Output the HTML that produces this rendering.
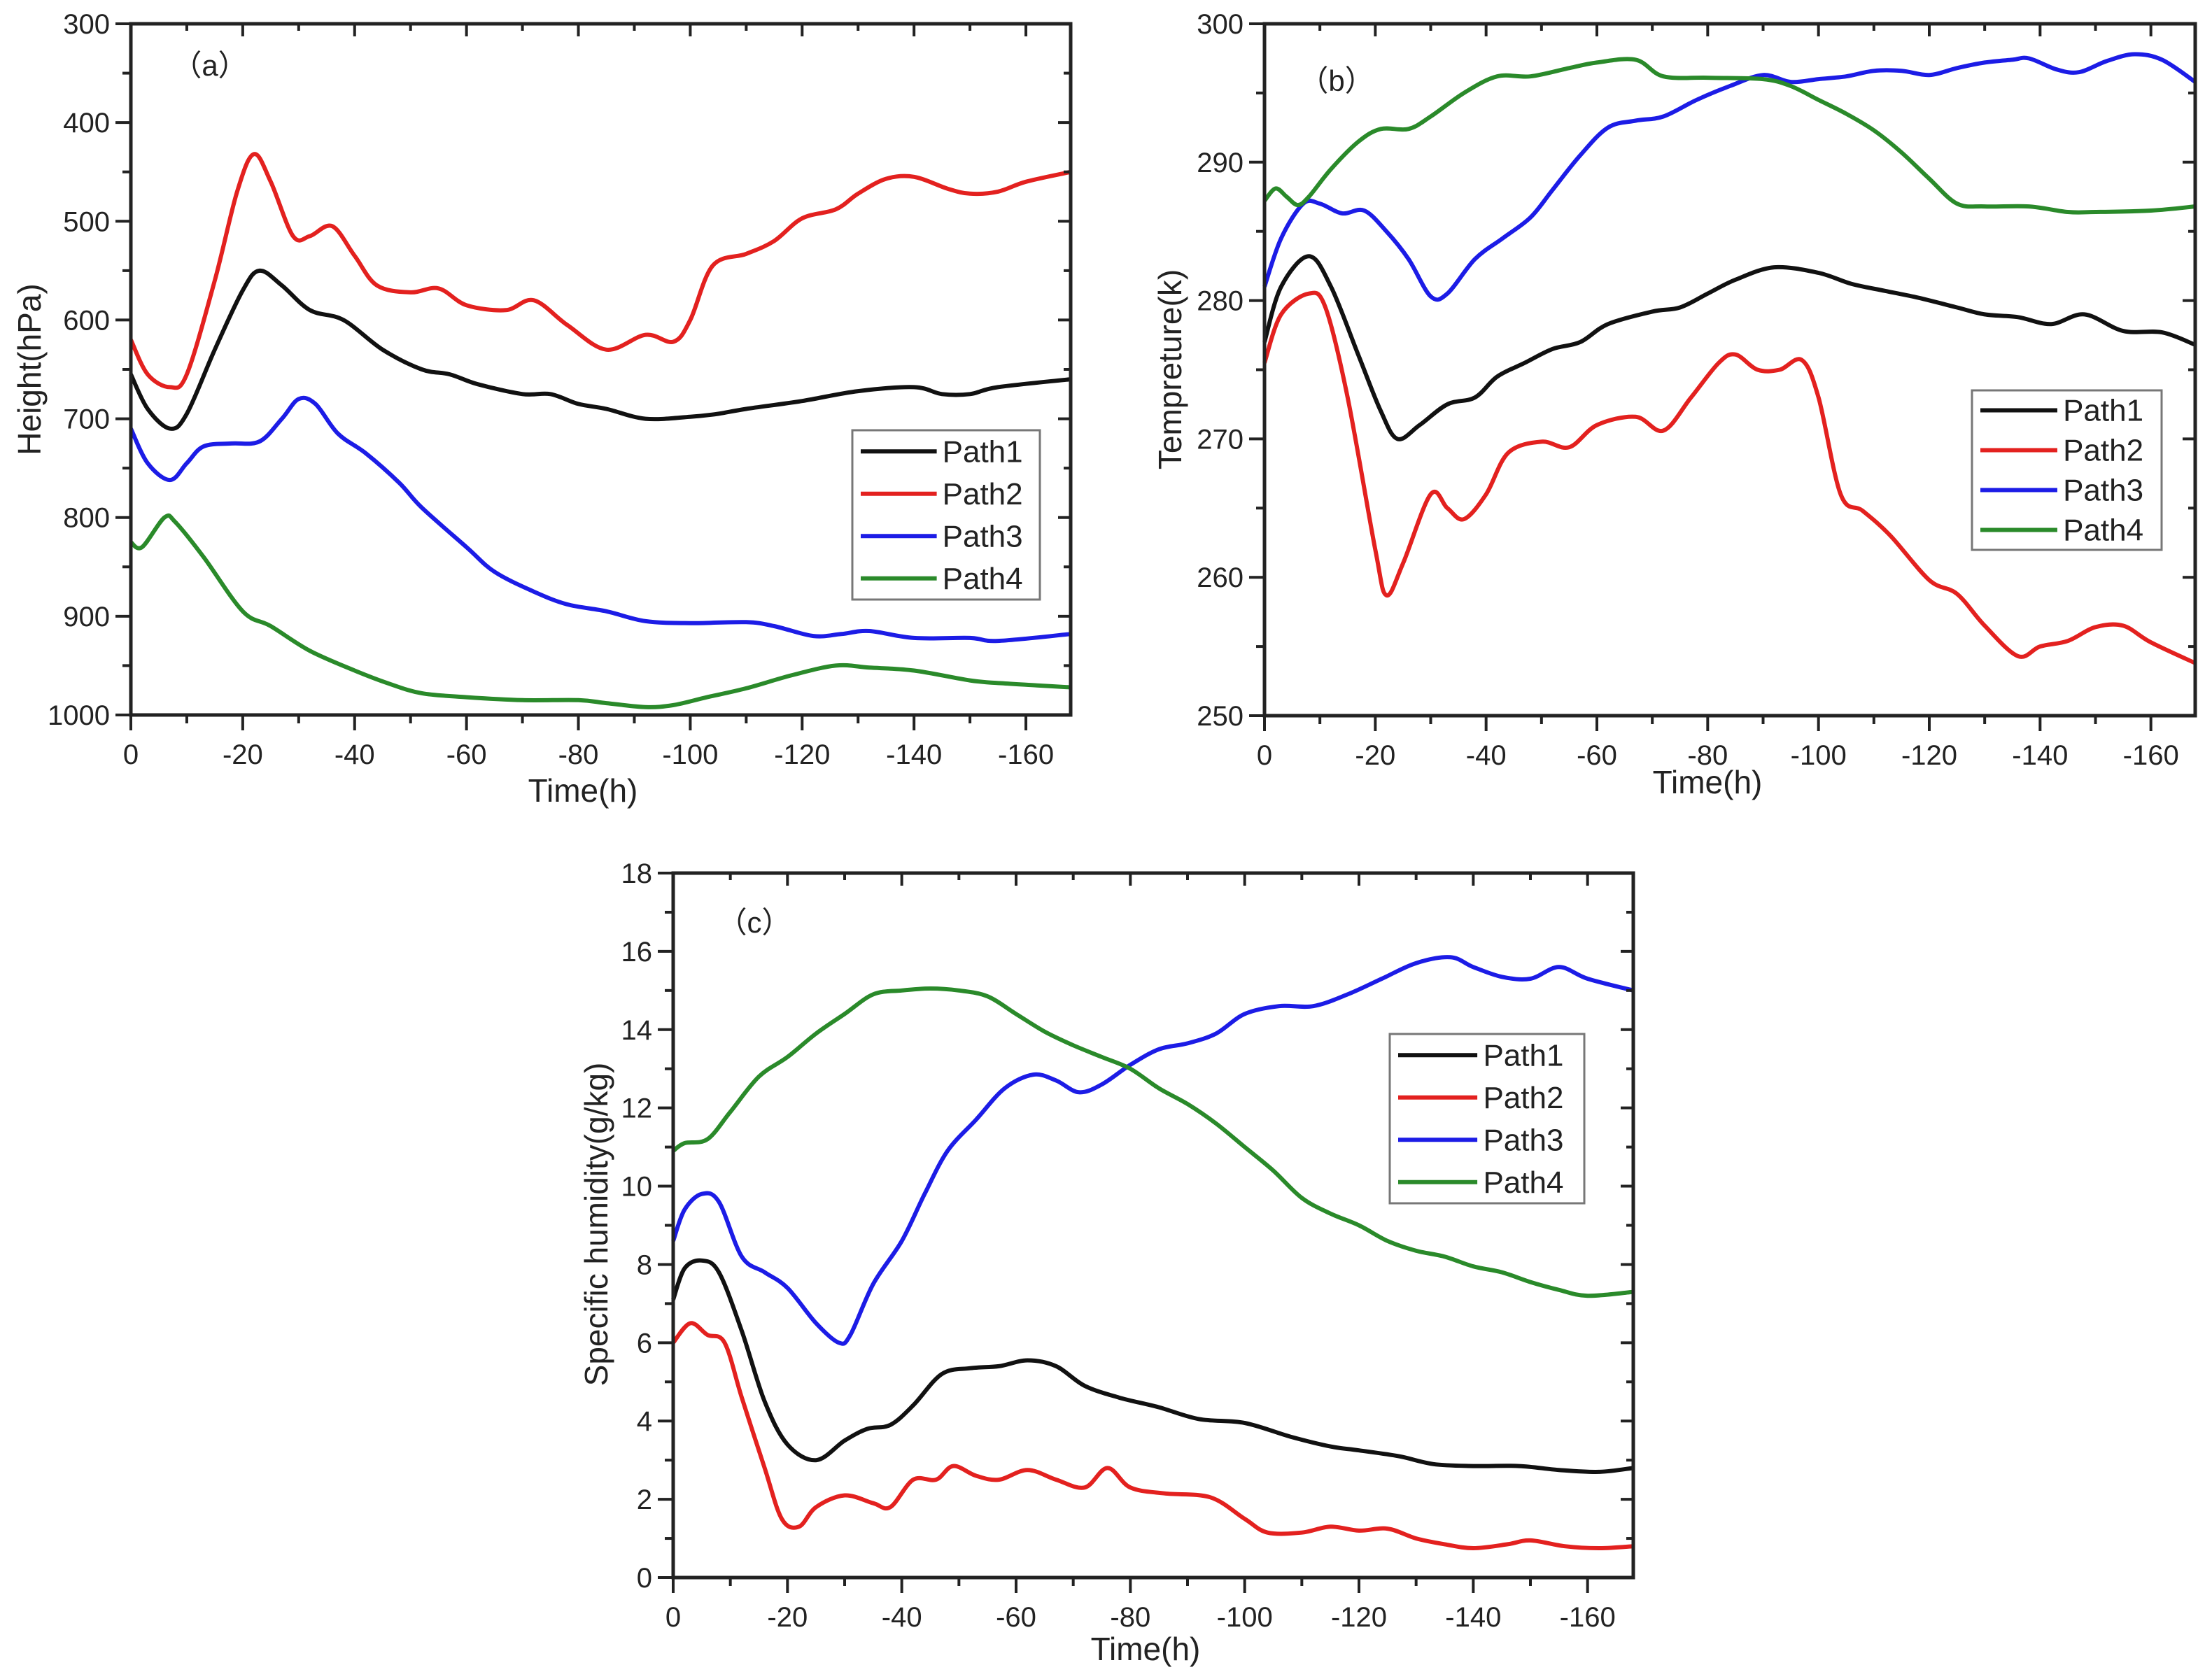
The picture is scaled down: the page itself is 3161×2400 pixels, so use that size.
<!DOCTYPE html>
<html><head><meta charset="utf-8"><style>
html,body{margin:0;padding:0;background:#fff;}
svg{display:block;font-family:"Liberation Sans",Arial,sans-serif;}
</style></head><body>
<svg id="fig" width="3161" height="2400" viewBox="0 0 3161 2400" xmlns="http://www.w3.org/2000/svg"></svg>
<script>
// ---------- Panel (a) data: Height (hPa) ----------
const aT1=[0,3,7,10,15,20,23,27,32,38,45,52,57,62,70,75,80,85,92,100,105,110,120,130,140,145,150,155,168];
const aV1=[655,690,710,695,630,570,550,565,590,600,630,650,655,665,675,675,685,690,700,698,695,690,682,672,668,675,675,668,660];
const aT2=[0,3,7,10,15,19,22,25,29,32,36,40,44,50,55,60,67,72,78,85,92,97,100,104,110,115,120,126,130,135,140,146,150,155,160,168];
const aV2=[620,655,668,655,560,470,432,460,515,515,505,535,565,572,568,585,590,580,605,630,615,622,600,545,533,520,497,488,472,457,455,467,472,470,460,450];
const aT3=[0,3,7,10,13,18,23,27,30,33,37,42,48,52,60,65,72,78,85,92,100,110,115,122,127,132,140,150,155,168];
const aV3=[710,745,762,745,728,725,723,700,680,685,715,735,765,790,830,855,875,888,895,905,907,906,910,920,918,915,922,922,925,918];
const aT4=[0,2,6,8,13,20,25,32,40,46,52,60,70,80,85,92,97,103,110,118,126,132,140,150,156,162,168];
const aV4=[825,830,800,805,840,895,910,935,955,968,978,982,985,985,988,992,990,982,973,960,950,952,955,965,968,970,972];
// ---------- Panel (b) data: Temperature (K) ----------
const bT1=[0,3,8,12,17,21,24,28,33,38,42,47,52,57,62,70,75,80,85,92,100,106,112,118,125,130,136,142,148,155,162,168];
const bV1=[277,281,283.2,281,276,272,270,271,272.5,273,274.5,275.5,276.5,277,278.3,279.2,279.5,280.5,281.5,282.4,282,281.2,280.7,280.2,279.5,279,278.8,278.3,279,277.8,277.7,276.8];
const bT2=[0,3,8,11,15,20,22,25,30,33,36,40,44,50,55,60,67,72,77,82,85,89,93,97,100,104,108,113,120,125,130,136,140,145,150,155,160,168];
const bV2=[275.5,279,280.5,279.5,273,262,258.7,261,266,265,264.2,266,269,269.8,269.4,271,271.6,270.6,273,275.5,276.1,275,275,275.7,273,266,264.8,263,259.8,258.8,256.5,254.3,255,255.4,256.4,256.5,255.3,253.8];
const bT3=[0,3,7,10,14,18,22,26,30,33,38,43,48,52,57,62,67,72,78,84,90,95,100,105,110,115,120,125,130,135,138,143,147,152,157,162,168];
const bV3=[281,284.5,287,287,286.3,286.5,285,283,280.3,280.5,283,284.5,286,288,290.5,292.5,293,293.3,294.5,295.5,296.3,295.8,296,296.2,296.6,296.6,296.3,296.8,297.2,297.4,297.5,296.7,296.5,297.3,297.8,297.4,295.8];
const bT4=[0,2,4,6,8,12,17,21,26,30,36,42,48,55,60,67,72,80,90,95,100,105,110,115,120,125,130,138,145,150,160,168];
const bV4=[287.2,288.1,287.5,286.9,287.5,289.5,291.5,292.4,292.4,293.3,295,296.2,296.2,296.8,297.2,297.4,296.2,296.1,296,295.5,294.5,293.5,292.3,290.7,288.8,287,286.8,286.8,286.4,286.4,286.5,286.8];
// ---------- Panel (c) data: Specific humidity (g/kg) ----------
const cT1=[0,2,5,8,12,16,20,25,30,34,38,42,47,52,57,62,67,72,78,85,92,100,108,115,120,127,133,140,148,155,162,168];
const cV1=[7.1,7.9,8.1,7.8,6.3,4.5,3.4,3.0,3.5,3.8,3.9,4.4,5.2,5.35,5.4,5.55,5.4,4.9,4.6,4.35,4.05,3.95,3.6,3.35,3.25,3.1,2.9,2.85,2.85,2.75,2.7,2.8];
const cT2=[0,3,6,9,12,16,19,22,25,30,35,38,42,46,49,53,57,62,67,72,76,80,86,94,100,104,110,115,120,125,130,135,140,146,150,156,162,168];
const cV2=[6.0,6.5,6.2,6.0,4.6,2.8,1.5,1.3,1.8,2.1,1.9,1.8,2.5,2.5,2.85,2.6,2.5,2.75,2.5,2.3,2.8,2.3,2.15,2.05,1.5,1.15,1.15,1.3,1.2,1.25,1.0,0.85,0.75,0.85,0.95,0.8,0.75,0.8];
const cT3=[0,2,5,8,12,16,20,25,29,31,35,40,44,48,53,58,63,67,71,75,80,85,90,95,100,106,112,118,124,130,136,140,145,150,155,160,168];
const cV3=[8.6,9.4,9.8,9.6,8.2,7.8,7.4,6.5,6.0,6.2,7.5,8.6,9.8,10.9,11.7,12.5,12.85,12.7,12.4,12.6,13.1,13.5,13.65,13.9,14.4,14.6,14.6,14.9,15.3,15.7,15.85,15.6,15.35,15.3,15.6,15.3,15.0];
const cT4=[0,2,6,10,15,20,25,30,35,40,45,50,55,60,65,70,75,80,85,90,95,100,105,110,115,120,125,130,135,140,145,150,155,160,168];
const cV4=[10.9,11.1,11.2,11.9,12.8,13.3,13.9,14.4,14.9,15.0,15.05,15.0,14.85,14.4,13.95,13.6,13.3,13.0,12.5,12.1,11.6,11.0,10.4,9.7,9.3,9.0,8.6,8.35,8.2,7.95,7.8,7.55,7.35,7.2,7.3];
// x tick labels (hours before)
const xTicks=[0,-20,-40,-60,-80,-100,-120,-140,-160];
const seriesNames=["Path1","Path2","Path3","Path4"];
const seriesColors=["#111111","#e3211f","#1c1ce6","#2a8a2a"];

const NS="http://www.w3.org/2000/svg";
const svg=document.getElementById('fig');
function mk(tag,attrs,parent){const e=document.createElementNS(NS,tag);for(const k in attrs)e.setAttribute(k,attrs[k]);(parent||svg).appendChild(e);return e;}

function smoothPath(pts){
  let d=`M${pts[0][0].toFixed(1)},${pts[0][1].toFixed(1)}`;
  for(let i=0;i<pts.length-1;i++){
    const p0=pts[Math.max(0,i-1)],p1=pts[i],p2=pts[i+1],p3=pts[Math.min(pts.length-1,i+2)];
    const c1x=p1[0]+(p2[0]-p0[0])/6,c1y=p1[1]+(p2[1]-p0[1])/6;
    const c2x=p2[0]-(p3[0]-p1[0])/6,c2y=p2[1]-(p3[1]-p1[1])/6;
    d+=` C${c1x.toFixed(1)},${c1y.toFixed(1)} ${c2x.toFixed(1)},${c2y.toFixed(1)} ${p2[0].toFixed(1)},${p2[1].toFixed(1)}`;
  }
  return d;
}

function panel(cfg){
  const g=mk('g',{});
  
  
  const {L,R,T,B}=cfg;
  const xs=t=>L+(t/168)*(R-L);
  const ys=v=>cfg.invert? T+(v-cfg.ymin)/(cfg.ymax-cfg.ymin)*(B-T) : B-(v-cfg.ymin)/(cfg.ymax-cfg.ymin)*(B-T);
  cfg.series.forEach((s,i)=>{
    const pts=s[0].map((t,j)=>[xs(t),ys(s[1][j])]);
    const p=mk('path',{d:smoothPath(pts),fill:'none',stroke:seriesColors[i],'stroke-width':6,'stroke-linejoin':'round'},g);
    
    
  });
  const fr=mk('rect',{x:L,y:T,width:R-L,height:B-T,fill:'none',stroke:'#222','stroke-width':5},g);
  
  
  for(let t=0;t<=168;t+=10){
    const x=xs(t);const major=(t%20===0);
    mk('line',{x1:x,y1:B,x2:x,y2:B+(major?22:12),stroke:'#222','stroke-width':4},g);
    mk('line',{x1:x,y1:T,x2:x,y2:T+(major?18:10),stroke:'#222','stroke-width':4},g);
  }
  xTicks.forEach(v=>{
    const tx=mk('text',{x:xs(-v),y:B+70,'font-size':40,'text-anchor':'middle',fill:'#222'},g);
    tx.textContent=v;
    
    
  });
  for(let v=cfg.ymin;v<=cfg.ymax+1e-9;v+=cfg.minor){
    const y=ys(v);const major=Math.abs((v-cfg.ymin)/cfg.major-Math.round((v-cfg.ymin)/cfg.major))<1e-6;
    mk('line',{x1:L-(major?22:12),y1:y,x2:L,y2:y,stroke:'#222','stroke-width':4},g);
    mk('line',{x1:R,y1:y,x2:R-(major?18:10),y2:y,stroke:'#222','stroke-width':4},g);
    if(major){
      const tx=mk('text',{x:L-30,y:y+14,'font-size':40,'text-anchor':'end',fill:'#222'},g);
      tx.textContent=Math.round(v);
      
      
    }
  }
  const xt=mk('text',{x:cfg.xtx,y:cfg.xty,'font-size':46,'text-anchor':'middle',fill:'#222'},g);
  xt.textContent='Time(h)';
  
  
  const yt=mk('text',{x:0,y:0,'font-size':46,'text-anchor':'middle',fill:'#222',transform:`translate(${cfg.ytx},${cfg.yty}) rotate(-90)`},g);
  yt.textContent=cfg.ytitle;
  
  
  const lab=mk('text',{x:cfg.labx,y:cfg.laby,'font-size':42,'text-anchor':'middle',fill:'#222'},g);
  lab.textContent=cfg.label;
  
  
  const lg=mk('g',{},g);
  
  
  const [lx,ly,lw,lh]=cfg.leg;
  mk('rect',{x:lx,y:ly,width:lw,height:lh,fill:'#fff',stroke:'#777','stroke-width':3},lg);
  const step=lh/4;
  seriesNames.forEach((n,i)=>{
    const cy=ly+step*(i+0.5);
    const e=mk('g',{},lg);
    
    
    mk('line',{x1:lx+12,y1:cy,x2:lx+lw*0.45,y2:cy,stroke:seriesColors[i],'stroke-width':6},e);
    const t=mk('text',{x:lx+lw*0.48,y:cy+15,'font-size':44,fill:'#222'},e);
    t.textContent=n;
  });
}

panel({id:'panel-a',L:187,R:1530,T:34,B:1022,ymin:300,ymax:1000,invert:true,major:100,minor:50,
  series:[[aT1,aV1],[aT2,aV2],[aT3,aV3],[aT4,aV4]],ytitle:'Height(hPa)',ytx:58,yty:528,xtx:833,xty:1146,
  label:'（a）',labx:300,laby:108,leg:[1218,615,268,242]});
panel({id:'panel-b',L:1807,R:3137,T:34,B:1023,ymin:250,ymax:300,invert:false,major:10,minor:5,
  series:[[bT1,bV1],[bT2,bV2],[bT3,bV3],[bT4,bV4]],ytitle:'Tempreture(k)',ytx:1688,yty:528,xtx:2440,xty:1134,
  label:'（b）',labx:1910,laby:130,leg:[2818,558,271,228]});
panel({id:'panel-c',L:962,R:2334,T:1248,B:2255,ymin:0,ymax:18,invert:false,major:2,minor:1,
  series:[[cT1,cV1],[cT2,cV2],[cT3,cV3],[cT4,cV4]],ytitle:'Specific humidity(g/kg)',ytx:868,yty:1750,xtx:1637,xty:2373,
  label:'（c）',labx:1078,laby:1333,leg:[1986,1478,278,242]});
</script>
</body></html>
